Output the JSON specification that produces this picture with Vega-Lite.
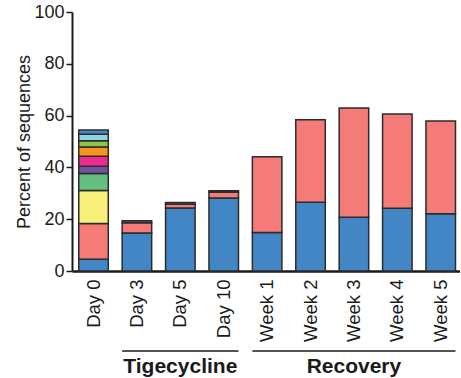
{
  "$schema": "https://vega.github.io/schema/vega-lite/v6.json",
  "padding": {"left": 15, "top": 3, "right": 0, "bottom": 0},
  "background": "white",
  "config": {
    "view": {"stroke": null},
    "font": "Liberation Sans",
    "axis": {"grid": false, "domainColor": "#1a1a1a", "tickColor": "#1a1a1a", "labelColor": "#1a1a1a", "titleColor": "#1a1a1a", "labelFont": "Liberation Sans", "titleFont": "Liberation Sans"}
  },
  "datasets": {
    "abund": [
      {"sample": "Day 0", "taxon": "Taxon A", "percent": 4.5},
      {"sample": "Day 0", "taxon": "Taxon B", "percent": 13.8},
      {"sample": "Day 0", "taxon": "Taxon C", "percent": 12.8},
      {"sample": "Day 0", "taxon": "Taxon D", "percent": 6.5},
      {"sample": "Day 0", "taxon": "Taxon E", "percent": 2.8},
      {"sample": "Day 0", "taxon": "Taxon F", "percent": 3.9},
      {"sample": "Day 0", "taxon": "Taxon G", "percent": 3.6},
      {"sample": "Day 0", "taxon": "Taxon H", "percent": 2.4},
      {"sample": "Day 0", "taxon": "Taxon I", "percent": 2.5},
      {"sample": "Day 0", "taxon": "Taxon J", "percent": 1.6},
      {"sample": "Day 3", "taxon": "Taxon A", "percent": 14.7},
      {"sample": "Day 3", "taxon": "Taxon B", "percent": 3.9},
      {"sample": "Day 3", "taxon": "Taxon E", "percent": 0.8},
      {"sample": "Day 5", "taxon": "Taxon A", "percent": 24.3},
      {"sample": "Day 5", "taxon": "Taxon B", "percent": 1.5},
      {"sample": "Day 5", "taxon": "Taxon E", "percent": 0.6},
      {"sample": "Day 10", "taxon": "Taxon A", "percent": 28.2},
      {"sample": "Day 10", "taxon": "Taxon B", "percent": 2.2},
      {"sample": "Day 10", "taxon": "Taxon E", "percent": 0.6},
      {"sample": "Week 1", "taxon": "Taxon A", "percent": 14.9},
      {"sample": "Week 1", "taxon": "Taxon B", "percent": 29.2},
      {"sample": "Week 2", "taxon": "Taxon A", "percent": 26.5},
      {"sample": "Week 2", "taxon": "Taxon B", "percent": 31.9},
      {"sample": "Week 3", "taxon": "Taxon A", "percent": 20.8},
      {"sample": "Week 3", "taxon": "Taxon B", "percent": 42.1},
      {"sample": "Week 4", "taxon": "Taxon A", "percent": 24.2},
      {"sample": "Week 4", "taxon": "Taxon B", "percent": 36.4},
      {"sample": "Week 5", "taxon": "Taxon A", "percent": 22.1},
      {"sample": "Week 5", "taxon": "Taxon B", "percent": 35.8}
    ],
    "phases": [
      {"phase": "Tigecycline", "first": "Day 3", "middle": "Day 5", "last": "Day 10"},
      {"phase": "Recovery", "first": "Week 1", "middle": "Week 3", "last": "Week 5"}
    ]
  },
  "spacing": 4,
  "resolve": {"scale": {"x": "shared"}},
  "vconcat": [
    {
      "width": 388,
      "height": 259,
      "data": {"name": "abund"},
      "mark": {"type": "bar", "stroke": "#2b2b2b", "strokeWidth": 1.5},
      "encoding": {
        "x": {
          "field": "sample", "type": "nominal",
          "scale": {"domain": ["Day 0", "Day 3", "Day 5", "Day 10", "Week 1", "Week 2", "Week 3", "Week 4", "Week 5"], "paddingInner": 0.32, "paddingOuter": 0.13, "align": 0.6},
          "axis": {"title": null, "labelAngle": -90, "labelAlign": "right", "labelBaseline": "middle", "labelFontSize": 18.5, "labelPadding": 8, "ticks": false, "domainWidth": 2.5}
        },
        "y": {
          "field": "percent", "type": "quantitative", "stack": "zero",
          "scale": {"domain": [0, 100], "nice": false},
          "axis": {"title": "Percent of sequences", "titleFontSize": 18, "titleFontWeight": "normal", "titlePadding": 0, "values": [0, 20, 40, 60, 80, 100], "labelFontSize": 18, "labelPadding": 2, "tickSize": 6, "tickWidth": 1.5, "domainWidth": 2}
        },
        "color": {
          "field": "taxon", "type": "nominal", "legend": null,
          "scale": {
            "domain": ["Taxon A", "Taxon B", "Taxon C", "Taxon D", "Taxon E", "Taxon F", "Taxon G", "Taxon H", "Taxon I", "Taxon J"],
            "range": ["#4286c6", "#f47b78", "#f8f07b", "#67bf7f", "#6f52a0", "#ec2a8f", "#f7941e", "#8dc641", "#8fd2e6", "#4a87c6"]
          }
        },
        "order": {"field": "taxon", "sort": "ascending"}
      }
    },
    {
      "width": 388,
      "height": 10,
      "data": {"name": "phases"},
      "layer": [
        {
          "mark": {"type": "rule", "stroke": "#1a1a1a", "strokeWidth": 1.5, "x2Offset": {"expr": "bandwidth('x') / 2"}},
          "encoding": {
            "x": {"field": "first", "type": "nominal", "bandPosition": 0, "axis": null, "scale": {"domain": ["Day 0", "Day 3", "Day 5", "Day 10", "Week 1", "Week 2", "Week 3", "Week 4", "Week 5"]}},
            "x2": {"field": "last"}
          }
        },
        {
          "mark": {"type": "text", "fontSize": 21, "fontWeight": "bold", "color": "#1a1a1a", "baseline": "alphabetic", "dy": 22},
          "encoding": {
            "x": {"field": "middle", "type": "nominal", "axis": null},
            "text": {"field": "phase"}
          }
        }
      ]
    }
  ]
}
